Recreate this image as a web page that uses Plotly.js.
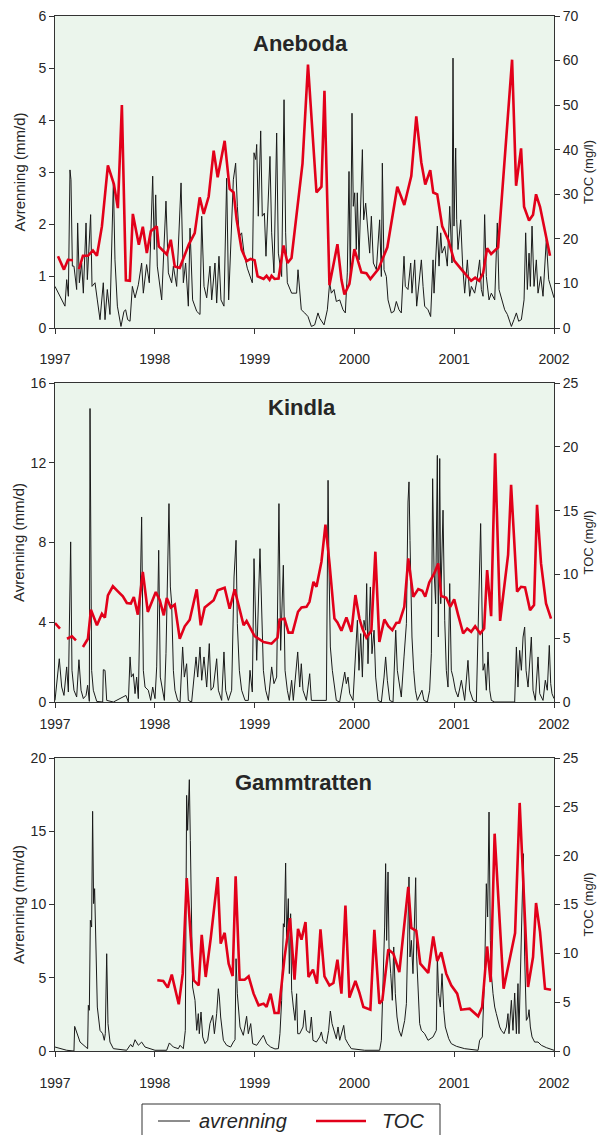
<!DOCTYPE html>
<html><head><meta charset="utf-8">
<script src="https://cdn.plot.ly/plotly-3.0.1.min.js"></script>
<style>html,body{margin:0;padding:0;background:#fff}#chart{width:598px;height:1135px}</style>
</head><body><div id="chart"></div>
<script>
const years = [1997, 1998, 1999, 2000, 2001, 2002];
const yearLabels = ['1997', '1998', '1999', '2000', '2001', '2002'];
const stations = ['Aneboda', 'Kindla', 'Gammtratten'];
const seriesNames = ['avrenning', 'TOC'];

// Aneboda: runoff (mm/d), [decimal year, value]
const anebodaRunoff = [[1997.000,0.80],[1997.100,0.42],[1997.117,0.93],[1997.134,0.61],[1997.150,3.04],[1997.160,2.85],[1997.174,1.19],[1997.190,1.19],[1997.217,0.74],[1997.227,2.02],[1997.244,0.87],[1997.267,1.25],[1997.284,0.67],[1997.311,2.02],[1997.324,0.93],[1997.357,2.18],[1997.371,0.80],[1997.401,0.87],[1997.424,0.54],[1997.451,0.16],[1997.484,0.87],[1997.501,0.16],[1997.524,0.74],[1997.551,0.26],[1997.585,2.82],[1997.601,1.31],[1997.625,0.42],[1997.661,0.03],[1997.691,0.32],[1997.708,0.35],[1997.728,0.16],[1997.752,0.13],[1997.775,0.80],[1997.802,0.58],[1997.835,0.83],[1997.868,1.25],[1997.885,0.67],[1997.918,1.22],[1997.945,0.87],[1997.979,2.92],[1997.995,1.51],[1998.009,2.56],[1998.025,1.19],[1998.069,0.54],[1998.112,2.44],[1998.136,1.06],[1998.169,0.87],[1998.186,1.19],[1998.219,0.80],[1998.263,2.79],[1998.286,0.87],[1998.309,1.25],[1998.336,0.42],[1998.353,1.92],[1998.379,0.54],[1998.420,0.32],[1998.453,0.26],[1998.470,2.15],[1998.493,0.80],[1998.520,0.58],[1998.553,1.19],[1998.570,0.54],[1998.603,1.25],[1998.620,0.48],[1998.643,1.38],[1998.663,0.54],[1998.693,0.42],[1998.720,2.88],[1998.740,0.54],[1998.787,2.85],[1998.810,3.17],[1998.827,2.34],[1998.847,1.76],[1998.870,1.83],[1998.894,1.44],[1998.927,1.15],[1998.977,0.87],[1998.994,3.37],[1999.011,3.24],[1999.021,3.53],[1999.037,2.15],[1999.061,3.79],[1999.077,2.15],[1999.098,2.21],[1999.114,1.38],[1999.138,2.66],[1999.154,3.30],[1999.171,1.83],[1999.194,1.06],[1999.221,3.75],[1999.238,1.44],[1999.271,0.99],[1999.295,4.39],[1999.311,1.83],[1999.328,0.87],[1999.371,0.67],[1999.421,0.67],[1999.435,1.12],[1999.468,0.35],[1999.502,0.29],[1999.535,0.22],[1999.569,0.03],[1999.602,0.06],[1999.635,0.29],[1999.652,0.19],[1999.696,0.06],[1999.729,0.35],[1999.752,0.87],[1999.769,0.67],[1999.796,0.74],[1999.819,0.51],[1999.853,0.54],[1999.886,0.35],[1999.909,0.29],[1999.929,1.06],[1999.946,3.01],[1999.959,0.93],[1999.976,4.13],[1999.989,2.34],[2000.003,2.60],[2000.019,1.51],[2000.029,2.60],[2000.046,1.31],[2000.080,3.43],[2000.093,2.08],[2000.113,2.40],[2000.136,1.89],[2000.153,1.44],[2000.170,2.15],[2000.190,1.25],[2000.220,1.12],[2000.253,2.08],[2000.270,0.99],[2000.280,3.17],[2000.297,1.12],[2000.320,0.99],[2000.337,0.54],[2000.370,0.29],[2000.397,0.32],[2000.420,0.51],[2000.447,0.35],[2000.470,0.29],[2000.497,1.38],[2000.510,0.80],[2000.537,0.74],[2000.564,1.25],[2000.577,0.67],[2000.604,1.31],[2000.624,0.42],[2000.637,0.67],[2000.671,1.31],[2000.688,0.80],[2000.704,0.42],[2000.738,0.35],[2000.764,0.22],[2000.788,1.31],[2000.798,0.67],[2000.831,1.96],[2000.848,1.19],[2000.865,1.83],[2000.878,1.44],[2000.905,1.57],[2000.931,1.19],[2000.955,2.34],[2000.978,1.25],[2000.988,5.19],[2000.998,1.96],[2001.015,3.46],[2001.025,2.08],[2001.038,1.51],[2001.065,2.08],[2001.085,1.19],[2001.105,0.67],[2001.132,1.31],[2001.155,0.61],[2001.172,0.80],[2001.205,0.67],[2001.229,0.93],[2001.255,1.31],[2001.272,0.74],[2001.289,0.61],[2001.305,2.18],[2001.322,0.99],[2001.349,0.54],[2001.372,0.67],[2001.406,0.54],[2001.432,2.02],[2001.449,0.74],[2001.479,0.54],[2001.506,0.35],[2001.533,0.26],[2001.573,0.03],[2001.599,0.16],[2001.623,0.29],[2001.646,0.13],[2001.673,0.16],[2001.700,0.54],[2001.716,1.83],[2001.733,0.74],[2001.750,1.44],[2001.763,0.80],[2001.780,1.96],[2001.800,0.80],[2001.823,1.31],[2001.840,0.67],[2001.867,0.99],[2001.890,0.61],[2001.907,1.19],[2001.923,1.70],[2001.947,0.93],[2001.967,0.80],[2002.000,0.58]];
// Aneboda: TOC (mg/l)
const anebodaToc = [[1997.03,16.1],[1997.09,13.1],[1997.13,15.3],[1997.18,15.2],[1997.21,null],[1997.24,13.2],[1997.28,16.2],[1997.33,16.2],[1997.38,17.4],[1997.42,16.2],[1997.47,22.8],[1997.53,36.5],[1997.59,32.3],[1997.63,26.9],[1997.67,50.0],[1997.71,10.7],[1997.75,10.6],[1997.78,25.6],[1997.84,18.7],[1997.88,22.7],[1997.92,16.8],[1997.96,21.7],[1998.02,22.8],[1998.04,18.3],[1998.12,16.5],[1998.16,19.8],[1998.20,13.8],[1998.25,13.5],[1998.34,18.7],[1998.40,21.3],[1998.45,29.3],[1998.49,25.6],[1998.54,29.5],[1998.59,39.8],[1998.63,33.8],[1998.70,42.0],[1998.75,31.2],[1998.79,30.4],[1998.82,24.3],[1998.87,17.6],[1998.92,15.0],[1998.96,15.5],[1999.00,15.2],[1999.03,11.6],[1999.09,11.0],[1999.12,11.7],[1999.15,10.8],[1999.17,11.7],[1999.20,11.0],[1999.24,11.1],[1999.29,18.5],[1999.33,14.6],[1999.37,15.7],[1999.48,36.9],[1999.535,59.1],[1999.62,30.4],[1999.67,31.7],[1999.70,53.2],[1999.75,9.6],[1999.83,18.8],[1999.87,10.8],[1999.90,7.5],[1999.95,9.9],[2000.00,17.7],[2000.07,12.5],[2000.12,12.3],[2000.16,11.0],[2000.24,13.2],[2000.33,18.1],[2000.43,31.7],[2000.50,27.6],[2000.57,34.1],[2000.62,47.5],[2000.67,37.2],[2000.71,32.2],[2000.76,35.4],[2000.79,30.4],[2000.83,30.0],[2000.88,22.8],[2000.94,19.8],[2001.00,15.1],[2001.07,13.2],[2001.17,10.6],[2001.21,11.3],[2001.25,10.6],[2001.29,12.3],[2001.33,17.9],[2001.37,16.6],[2001.44,18.1],[2001.58,60.2],[2001.62,31.9],[2001.67,40.3],[2001.70,27.2],[2001.75,24.1],[2001.79,25.4],[2001.82,30.0],[2001.86,27.2],[2001.96,16.2]];

// Kindla
const kindlaRunoff = [[1997.000,0.08],[1997.043,2.17],[1997.067,0.75],[1997.090,0.33],[1997.117,1.76],[1997.134,0.50],[1997.157,8.03],[1997.170,1.59],[1997.190,0.59],[1997.217,0.25],[1997.240,2.12],[1997.261,0.59],[1997.284,0.17],[1997.311,0.33],[1997.327,0.84],[1997.344,0.03],[1997.351,14.72],[1997.367,1.59],[1997.384,0.59],[1997.418,0.03],[1997.478,0],[1997.484,1.62],[1997.501,1.59],[1997.518,0.08],[1997.585,0],[1997.711,0.33],[1997.735,0],[1997.752,2.26],[1997.765,1.25],[1997.785,1.42],[1997.802,0.42],[1997.818,1.25],[1997.835,0.17],[1997.868,9.28],[1997.885,1.59],[1997.902,0.75],[1997.935,0.59],[1997.959,0.08],[1997.979,0.75],[1998.002,0.17],[1998.019,1.76],[1998.039,7.61],[1998.055,1.25],[1998.079,0.59],[1998.096,0.08],[1998.112,2.42],[1998.142,9.95],[1998.156,5.77],[1998.169,4.93],[1998.186,1.59],[1998.202,0.59],[1998.229,0.08],[1998.253,0],[1998.279,2.76],[1998.296,1.25],[1998.319,1.92],[1998.336,0.08],[1998.369,0],[1998.413,2.26],[1998.430,1.25],[1998.453,2.76],[1998.470,1.09],[1998.493,2.26],[1998.520,0.75],[1998.546,2.93],[1998.563,0.59],[1998.587,0.75],[1998.620,2.17],[1998.637,0.59],[1998.670,0.08],[1998.693,2.51],[1998.710,0.59],[1998.737,0.08],[1998.770,0.59],[1998.794,6.27],[1998.814,8.11],[1998.827,3.93],[1998.847,1.59],[1998.870,0.59],[1998.904,0.08],[1998.937,0.08],[1998.954,1.59],[1998.977,0.50],[1998.994,7.19],[1999.011,3.26],[1999.021,2.09],[1999.054,7.69],[1999.071,4.93],[1999.088,1.59],[1999.111,0.59],[1999.138,0.08],[1999.171,1.76],[1999.194,0.92],[1999.221,1.25],[1999.244,9.95],[1999.261,2.59],[1999.288,6.86],[1999.305,1.59],[1999.328,0.59],[1999.348,0.08],[1999.371,1.09],[1999.388,0.08],[1999.432,2.51],[1999.452,0.75],[1999.468,1.92],[1999.485,0.59],[1999.519,0.08],[1999.552,1.42],[1999.569,0.08],[1999.719,0.08],[1999.736,11.12],[1999.746,6.61],[1999.759,2.76],[1999.779,1.59],[1999.802,0.59],[1999.819,0.08],[1999.852,0],[1999.903,1.50],[1999.919,0.92],[1999.936,1.25],[1999.953,0.42],[1999.986,0.08],[2000.030,4.10],[2000.046,1.59],[2000.063,3.43],[2000.080,1.25],[2000.096,4.10],[2000.113,3.60],[2000.123,5.94],[2000.136,1.92],[2000.160,5.77],[2000.176,2.42],[2000.197,3.60],[2000.213,1.25],[2000.237,0.08],[2000.270,0],[2000.297,1.25],[2000.313,2.26],[2000.330,1.09],[2000.354,0.08],[2000.387,0],[2000.414,3.60],[2000.430,1.59],[2000.447,0.92],[2000.470,0.25],[2000.497,2.26],[2000.521,3.93],[2000.537,10.03],[2000.547,11.04],[2000.557,8.11],[2000.564,5.94],[2000.577,3.26],[2000.594,1.59],[2000.611,0.59],[2000.631,0.08],[2000.677,0.59],[2000.697,0.08],[2000.731,0],[2000.754,0.59],[2000.771,2.42],[2000.784,11.20],[2000.798,6.61],[2000.814,4.93],[2000.831,12.37],[2000.841,3.26],[2000.855,12.21],[2000.865,4.93],[2000.878,8.28],[2000.888,9.62],[2000.905,4.10],[2000.921,1.59],[2000.938,0.75],[2000.955,5.94],[2000.971,1.59],[2000.988,1.25],[2001.012,0.59],[2001.038,0.25],[2001.072,1.09],[2001.088,0.59],[2001.105,0.08],[2001.138,2.09],[2001.155,0.59],[2001.189,0.08],[2001.222,0],[2001.265,8.95],[2001.275,4.60],[2001.289,1.59],[2001.305,1.92],[2001.322,0.59],[2001.339,2.51],[2001.356,0.59],[2001.372,0.08],[2001.406,0],[2001.606,0],[2001.623,2.76],[2001.639,0.75],[2001.656,2.59],[2001.673,1.59],[2001.690,3.26],[2001.706,3.76],[2001.720,1.59],[2001.740,0.75],[2001.773,3.26],[2001.790,0.59],[2001.813,0.08],[2001.840,2.26],[2001.857,0.42],[2001.890,0.08],[2001.913,1.09],[2001.933,0.59],[2001.953,2.84],[2001.967,0.92],[2001.980,0.42],[2002.000,0.17]];
const kindlaToc = [[1997.00,6.19],[1997.05,5.75],[1997.08,null],[1997.12,4.96],[1997.17,5.14],[1997.21,4.83],[1997.25,null],[1997.28,4.31],[1997.33,4.96],[1997.36,7.24],[1997.42,6.01],[1997.47,6.92],[1997.50,6.61],[1997.53,8.36],[1997.58,9.07],[1997.63,8.67],[1997.68,8.28],[1997.72,7.76],[1997.76,7.71],[1997.79,8.23],[1997.83,6.85],[1997.88,10.19],[1997.93,7.06],[1998.01,8.62],[1998.05,7.97],[1998.09,6.79],[1998.12,8.15],[1998.16,7.40],[1998.20,7.63],[1998.25,4.96],[1998.30,5.93],[1998.35,6.45],[1998.42,8.83],[1998.46,6.01],[1998.50,7.40],[1998.59,7.97],[1998.63,8.75],[1998.70,8.96],[1998.75,7.31],[1998.80,8.83],[1998.85,7.31],[1998.89,6.01],[1998.92,6.35],[1999.00,5.17],[1999.09,4.70],[1999.17,4.57],[1999.23,5.04],[1999.25,6.45],[1999.30,6.53],[1999.34,5.44],[1999.38,5.44],[1999.435,7.07],[1999.47,7.41],[1999.52,7.46],[1999.55,7.85],[1999.59,9.42],[1999.62,9.03],[1999.67,11.0],[1999.71,13.9],[1999.75,10.9],[1999.80,6.54],[1999.83,6.23],[1999.87,5.58],[1999.92,6.62],[1999.97,5.50],[2000.01,8.38],[2000.05,6.54],[2000.08,5.76],[2000.12,5.05],[2000.17,5.58],[2000.21,11.78],[2000.25,4.71],[2000.30,6.47],[2000.34,5.94],[2000.38,5.63],[2000.42,6.20],[2000.45,6.23],[2000.50,7.46],[2000.54,11.26],[2000.59,8.25],[2000.64,8.85],[2000.68,8.72],[2000.71,8.25],[2000.75,9.37],[2000.80,10.08],[2000.84,10.86],[2000.87,8.30],[2000.92,8.17],[2000.96,7.46],[2001.00,8.04],[2001.04,6.81],[2001.09,5.37],[2001.13,5.76],[2001.17,5.50],[2001.21,5.94],[2001.26,5.37],[2001.30,5.76],[2001.33,10.34],[2001.37,6.73],[2001.41,19.50],[2001.46,6.36],[2001.54,11.52],[2001.57,17.02],[2001.63,8.64],[2001.67,9.03],[2001.71,8.98],[2001.76,7.20],[2001.80,7.59],[2001.83,15.45],[2001.87,10.86],[2001.92,7.72],[2001.97,6.54]];

// Gammtratten
const gammtrattenRunoff = [[1997.000,0.27],[1997.117,0.05],[1997.190,0],[1997.197,1.68],[1997.251,0.61],[1997.327,0.16],[1997.334,3.12],[1997.344,2.78],[1997.354,8.92],[1997.367,8.46],[1997.377,16.36],[1997.387,10.06],[1997.397,11.08],[1997.407,7.55],[1997.424,3.00],[1997.451,1.41],[1997.478,1.18],[1997.494,0.73],[1997.504,1.18],[1997.518,6.64],[1997.531,1.87],[1997.551,0.61],[1997.585,0.16],[1997.718,0.05],[1997.758,0.45],[1997.778,0.27],[1997.802,0.77],[1997.835,0.39],[1997.868,0.61],[1997.902,0.27],[1998.002,0.05],[1998.119,0.05],[1998.146,0.55],[1998.186,0.27],[1998.236,0.16],[1998.253,0.39],[1998.286,0.16],[1998.306,1.41],[1998.319,17.45],[1998.329,15.06],[1998.346,18.52],[1998.356,14.38],[1998.369,7.55],[1998.379,4.37],[1998.403,3.46],[1998.420,1.41],[1998.436,2.55],[1998.446,1.18],[1998.463,2.66],[1998.480,0.96],[1998.503,0.50],[1998.530,0.73],[1998.553,1.87],[1998.580,2.43],[1998.597,1.18],[1998.620,2.55],[1998.637,4.25],[1998.647,3.69],[1998.660,2.32],[1998.687,0.73],[1998.720,0.39],[1998.760,0.27],[1998.787,0.61],[1998.804,0.77],[1998.814,6.30],[1998.827,3.91],[1998.854,1.64],[1998.887,1.07],[1998.920,2.37],[1998.937,1.18],[1998.961,1.87],[1998.981,0.50],[1999.021,0.39],[1999.088,1.07],[1999.121,0.50],[1999.161,0.27],[1999.204,0.14],[1999.238,0.16],[1999.254,1.18],[1999.271,3.46],[1999.288,8.69],[1999.298,8.46],[1999.311,12.83],[1999.321,7.55],[1999.338,10.40],[1999.348,5.28],[1999.361,9.37],[1999.371,4.14],[1999.388,3.00],[1999.405,2.09],[1999.421,3.91],[1999.432,1.18],[1999.452,1.18],[1999.468,1.41],[1999.485,1.64],[1999.502,2.78],[1999.519,1.41],[1999.552,1.23],[1999.569,2.32],[1999.585,0.73],[1999.619,0.61],[1999.652,0.96],[1999.669,1.30],[1999.686,0.73],[1999.719,0.50],[1999.742,1.41],[1999.759,2.73],[1999.776,1.87],[1999.796,1.41],[1999.819,0.84],[1999.836,1.64],[1999.853,0.73],[1999.893,1.75],[1999.909,0.84],[1999.936,0.50],[1999.969,0.16],[2000.103,0.05],[2000.253,0.05],[2000.270,0.73],[2000.287,4.37],[2000.303,8.46],[2000.313,12.79],[2000.323,7.55],[2000.337,12.22],[2000.347,7.10],[2000.364,5.28],[2000.380,3.46],[2000.394,7.10],[2000.410,3.91],[2000.427,2.32],[2000.447,1.41],[2000.470,1.00],[2000.487,1.64],[2000.504,2.09],[2000.521,3.23],[2000.537,8.69],[2000.547,11.88],[2000.557,6.42],[2000.571,7.55],[2000.587,5.28],[2000.604,8.69],[2000.614,11.83],[2000.624,6.42],[2000.637,3.91],[2000.654,1.87],[2000.671,1.41],[2000.704,1.18],[2000.738,0.73],[2000.788,0.96],[2000.821,1.41],[2000.831,6.42],[2000.844,3.91],[2000.861,3.00],[2000.878,5.28],[2000.895,2.78],[2000.911,1.64],[2000.928,1.18],[2000.945,0.84],[2000.971,0.50],[2001.022,0.32],[2001.105,0.16],[2001.239,0.05],[2001.255,0.73],[2001.282,0.96],[2001.305,5.28],[2001.322,11.42],[2001.335,9.15],[2001.349,16.31],[2001.362,7.55],[2001.372,5.28],[2001.389,3.91],[2001.406,3.00],[2001.422,2.55],[2001.439,2.09],[2001.456,1.64],[2001.472,1.41],[2001.499,1.18],[2001.523,1.64],[2001.539,2.55],[2001.549,1.18],[2001.573,3.46],[2001.589,1.41],[2001.606,3.96],[2001.623,1.18],[2001.639,4.60],[2001.649,1.18],[2001.666,6.07],[2001.679,8.46],[2001.693,13.47],[2001.706,6.42],[2001.723,2.09],[2001.740,2.32],[2001.750,2.82],[2001.763,1.64],[2001.780,0.96],[2001.806,0.61],[2001.840,0.61],[2001.873,0.39],[2001.923,0.23],[2002.000,0.05]];
const gammtrattenToc = [[1998.025,7.24],[1998.085,7.17],[1998.13,6.49],[1998.17,7.82],[1998.24,4.78],[1998.28,7.92],[1998.32,17.7],[1998.39,7.24],[1998.44,6.72],[1998.47,11.9],[1998.51,7.58],[1998.56,11.5],[1998.63,17.8],[1998.66,11.0],[1998.70,12.1],[1998.74,8.94],[1998.78,7.68],[1998.81,17.9],[1998.85,7.30],[1998.90,7.30],[1998.94,7.64],[1998.99,5.87],[1999.04,4.68],[1999.09,4.85],[1999.12,4.51],[1999.16,5.87],[1999.20,3.89],[1999.24,3.89],[1999.30,9.59],[1999.355,13.6],[1999.40,7.30],[1999.435,12.5],[1999.47,11.4],[1999.51,13.2],[1999.54,7.58],[1999.585,8.33],[1999.625,6.89],[1999.66,12.46],[1999.70,7.65],[1999.75,6.72],[1999.79,6.96],[1999.83,9.35],[1999.87,5.87],[1999.91,14.9],[1999.95,5.46],[2000.01,7.17],[2000.05,5.97],[2000.09,4.5],[2000.16,4.23],[2000.20,12.4],[2000.25,4.85],[2000.28,5.19],[2000.34,10.4],[2000.39,9.97],[2000.45,8.09],[2000.54,16.8],[2000.57,12.6],[2000.62,12.3],[2000.66,8.94],[2000.74,7.99],[2000.79,11.74],[2000.83,9.22],[2000.87,10.1],[2000.92,7.92],[2000.97,6.72],[2001.03,5.87],[2001.07,4.23],[2001.155,4.33],[2001.24,3.55],[2001.28,4.5],[2001.33,10.7],[2001.365,7.06],[2001.405,22.25],[2001.495,6.38],[2001.54,8.6],[2001.61,12.08],[2001.656,25.4],[2001.74,6.55],[2001.79,9.62],[2001.82,15.15],[2001.86,12.2],[2001.91,6.38],[2001.97,6.28]];

// Axis ranges and tick labels
const runoffMax = [6, 16, 20];
const runoffTicks = [[0,1,2,3,4,5,6],[0,4,8,12,16],[0,5,10,15,20]];
const tocMax = [70, 25, 30];
const tocTicks = [[0,10,20,30,40,50,60,70],[0,5,10,15,20,25],[0,5,10,15,20,25,30]];
const tocTickLabels = [['0','10','20','30','40','50','60','70'],['0','5','10','15','20','25'],['0','5','10','15','20','25','25']];

const runoffData = [anebodaRunoff, kindlaRunoff, gammtrattenRunoff];
const tocData = [anebodaToc, kindlaToc, gammtrattenToc];
const seriesColors = ['#1a1a1a', '#e2001a'];

const W = 598, H = 1135, ML = 55, MR = 44;
const PW = W - ML - MR;
const px2x = v => (v - ML) / PW;
const py2y = v => 1 - v / H;
const panelPx = [[16, 328], [383, 702], [758, 1051]];
const titlePx = [[300, 44], [302, 408], [303, 782]];
const labelStandoff = [13, 4, 14];
const leftTitleStandoff = [9, 2, 2];
const FONT = 'Liberation Sans, Arial, Helvetica, sans-serif';
const INK = '#262626';
const AX = '#333333';

const traces = [];
const layout = {
  width: W, height: H,
  margin: {l: ML, r: MR, t: 0, b: 0, pad: 0},
  paper_bgcolor: '#ffffff',
  plot_bgcolor: '#ebf5ec',
  font: {family: FONT, color: INK, size: 14},
  showlegend: false,
  annotations: [],
  shapes: []
};

for (let i = 0; i < 3; i++) {
  const xs = i === 0 ? '' : String(i + 1);
  const yl = 2 * i + 1, yr = 2 * i + 2;
  const ylName = yl === 1 ? '' : String(yl);
  const yrName = String(yr);
  const dom = [py2y(panelPx[i][1]), py2y(panelPx[i][0])];

  traces.push({
    type: 'scatter', mode: 'lines',
    x: runoffData[i].map(p => p[0]), y: runoffData[i].map(p => p[1]),
    xaxis: 'x' + xs, yaxis: 'y' + ylName,
    name: seriesNames[0],
    line: {color: seriesColors[0], width: 1}, hoverinfo: 'skip'
  });
  traces.push({
    type: 'scatter', mode: 'lines',
    x: tocData[i].map(p => p[0]), y: tocData[i].map(p => p[1]),
    xaxis: 'x' + xs, yaxis: 'y' + yrName,
    name: seriesNames[1], connectgaps: false,
    line: {color: seriesColors[1], width: 2.6}, hoverinfo: 'skip'
  });

  layout['xaxis' + xs] = {
    domain: [0, 1], anchor: 'y' + ylName, range: [1997, 2002],
    tickmode: 'array', tickvals: years, ticktext: yearLabels,
    ticks: 'outside', ticklen: 5, tickwidth: 1, tickcolor: AX,
    ticklabelstandoff: labelStandoff[i],
    showline: true, linecolor: AX, linewidth: 1, mirror: true,
    showgrid: false, zeroline: false, fixedrange: true,
    tickfont: {family: FONT, size: 14, color: INK}
  };
  layout['yaxis' + ylName] = {
    domain: dom, anchor: 'x' + xs, range: [0, runoffMax[i]],
    tickmode: 'array', tickvals: runoffTicks[i],
    ticks: 'outside', ticklen: 5, tickwidth: 1, tickcolor: AX,
    showline: true, linecolor: AX, linewidth: 1,
    showgrid: false, zeroline: false, fixedrange: true,
    tickfont: {family: FONT, size: 14, color: INK},
    title: {text: 'Avrenning (mm/d)', font: {family: FONT, size: 15, color: INK}, standoff: leftTitleStandoff[i]}
  };
  layout['yaxis' + yrName] = {
    domain: dom, anchor: 'x' + xs, overlaying: 'y' + ylName, side: 'right',
    range: [0, tocMax[i]],
    tickmode: 'array', tickvals: tocTicks[i], ticktext: tocTickLabels[i],
    ticks: 'outside', ticklen: 5, tickwidth: 1, tickcolor: AX,
    showline: true, linecolor: AX, linewidth: 1,
    showgrid: false, zeroline: false, fixedrange: true,
    tickfont: {family: FONT, size: 14, color: INK},
    title: {text: 'TOC (mg/l)', font: {family: FONT, size: 13, color: INK}, standoff: 6}
  };
  layout.annotations.push({
    xref: 'paper', yref: 'paper',
    x: px2x(titlePx[i][0]), y: py2y(titlePx[i][1]),
    xanchor: 'center', yanchor: 'middle', showarrow: false,
    text: stations[i],
    font: {family: FONT, size: 22, weight: 'bold', color: INK}
  });
}

// Legend box (drawn as shapes + text so its geometry matches the original)
const legendBox = {x0: 142, x1: 440, y0: 1104, y1: 1142};
const legendRowY = 1121;
const legendItems = [{lineX: [158, 190], textX: 197}, {lineX: [316, 366], textX: 380}];
layout.shapes.push({
  type: 'rect', xref: 'paper', yref: 'paper',
  x0: px2x(legendBox.x0), x1: px2x(legendBox.x1), y0: py2y(legendBox.y1), y1: py2y(legendBox.y0),
  line: {color: AX, width: 1}, fillcolor: '#ffffff'
});
legendItems.forEach((it, k) => {
  layout.shapes.push({
    type: 'line', xref: 'paper', yref: 'paper',
    x0: px2x(it.lineX[0]), x1: px2x(it.lineX[1]), y0: py2y(legendRowY), y1: py2y(legendRowY),
    line: {color: seriesColors[k], width: k === 0 ? 1 : 2.6}
  });
  layout.annotations.push({
    xref: 'paper', yref: 'paper', x: px2x(it.textX), y: py2y(legendRowY),
    xanchor: 'left', yanchor: 'middle', showarrow: false,
    text: seriesNames[k],
    font: {family: FONT, size: 20, style: 'italic', color: INK}
  });
});

Plotly.newPlot('chart', traces, layout, {staticPlot: true, displayModeBar: false});
</script>
</body></html>
